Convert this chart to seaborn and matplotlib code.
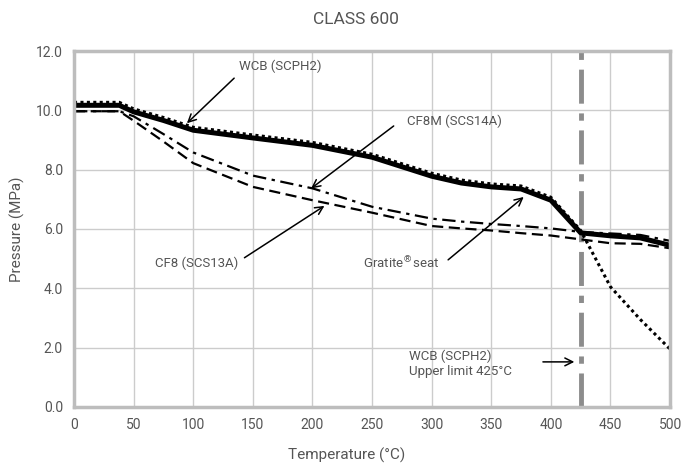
import seaborn as sns
import matplotlib.pyplot as plt
import pandas as pd

# Temperatures (degC) and pressure ratings (MPa)
temps = [0, 38, 50, 75, 100, 150, 200, 250, 300, 325, 350, 375, 400, 425, 450, 475, 500]
gratite_seat = [10.17, 10.17, 9.95, 9.66, 9.33, 9.07, 8.82, 8.42, 7.78, 7.55, 7.42, 7.35, 6.97, 5.87, 5.77, 5.70, 5.45]
wcb = [10.27, 10.27, 10.05, 9.76, 9.43, 9.17, 8.92, 8.52, 7.88, 7.65, 7.52, 7.45, 7.07, 5.95, 4.05, 2.95, 1.95]
cf8m = [9.97, 9.97, 9.80, 9.20, 8.58, 7.80, 7.37, 6.75, 6.35, 6.25, 6.17, 6.10, 6.02, 5.90, 5.85, 5.80, 5.60]
cf8 = [9.97, 9.97, 9.65, 8.95, 8.22, 7.42, 6.97, 6.55, 6.10, 6.02, 5.95, 5.86, 5.78, 5.65, 5.52, 5.50, 5.35]
wcb_limit = 425

df = pd.DataFrame({"temp": temps, "gratite": gratite_seat, "wcb": wcb,
                   "cf8m": cf8m, "cf8": cf8})

sns.set_style("whitegrid")
plt.rcParams["font.family"] = ["Roboto", "DejaVu Sans"]
text_color = "#555555"

fig = plt.figure(figsize=(6.81, 4.63), dpi=100)
ax = fig.add_axes([0.1087, 0.121, 0.8753, 0.7688])

# Curves
sns.lineplot(data=df, x="temp", y="cf8", ax=ax, color="black", lw=1.6,
             linestyle=(0, (5, 2.5)))
sns.lineplot(data=df, x="temp", y="cf8m", ax=ax, color="black", lw=1.6,
             linestyle=(0, (6, 2.5, 1.5, 2.5)))
sns.lineplot(data=df, x="temp", y="wcb", ax=ax, color="black", lw=2.2,
             linestyle=(0, (1, 1.1)))
sns.lineplot(data=df, x="temp", y="gratite", ax=ax, color="black", lw=3.6)

# WCB upper limit
ax.axvline(wcb_limit, color="#8c8c8c", lw=3.5, linestyle=(0, (7, 2, 1.5, 2)), zorder=1)

# Axes styling
ax.set_xlim(0, 500)
ax.set_ylim(0, 12)
ax.set_xticks(range(0, 501, 50))
ax.set_yticks(range(0, 13, 2))
ax.set_yticklabels([f"{v:.1f}" for v in range(0, 13, 2)])
ax.grid(True, color="#cccccc", lw=1)
for s in ax.spines.values():
    s.set_color("#bdbdbd")
    s.set_linewidth(2.5)
ax.tick_params(axis="both", length=0, labelsize=10, labelcolor=text_color, pad=8)
ax.set_xlabel("Temperature (°C)", fontsize=11, color=text_color)
ax.xaxis.set_label_coords(0.457, -0.115)
ax.set_ylabel("Pressure (MPa)", fontsize=11, color=text_color, labelpad=8)
fig.text(0.523, 1 - 20 / 463, "CLASS 600", fontsize=12.5, color=text_color,
         ha="center", va="center")

# Annotations
arrow = dict(arrowstyle="->", color="black", lw=1.1, mutation_scale=14)
txt_kw = dict(fontsize=9.5, color=text_color, va="center", ha="left")
ax.text(138, 11.48, "WCB (SCPH2)", **txt_kw)
ax.annotate("", xy=(93, 9.5), xytext=(136, 11.15), arrowprops=arrow)
ax.text(279, 9.63, "CF8M (SCS14A)", **txt_kw)
ax.annotate("", xy=(197, 7.31), xytext=(270, 9.53), arrowprops=arrow)
ax.text(68, 4.85, "CF8 (SCS13A)", **txt_kw)
ax.annotate("", xy=(212, 6.83), xytext=(141, 4.98), arrowprops=arrow)
ax.text(242, 4.85, "Gratite$^{®}$seat", **txt_kw)
ax.annotate("", xy=(379, 7.14), xytext=(312, 4.9), arrowprops=arrow)
ax.text(281, 1.45, "WCB (SCPH2)\nUpper limit 425°C", linespacing=1.15, **txt_kw)
ax.annotate("", xy=(422, 1.52), xytext=(391, 1.52), arrowprops=arrow)

plt.savefig("out.png", dpi=100)
